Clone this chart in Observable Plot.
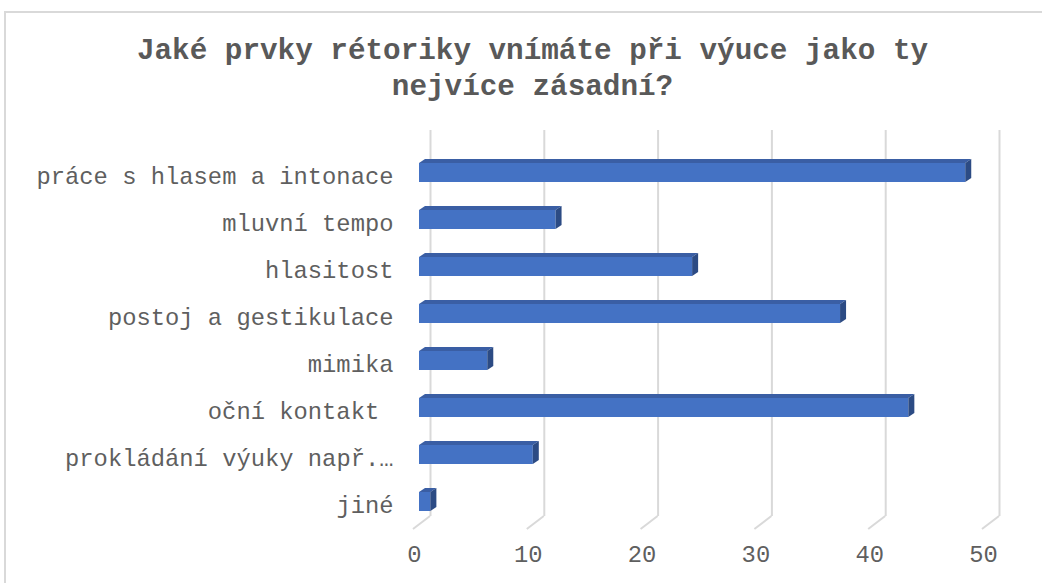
<!DOCTYPE html>
<html><head><meta charset="utf-8">
<script src="https://cdn.jsdelivr.net/npm/d3@7"></script>
<script src="https://cdn.jsdelivr.net/npm/@observablehq/plot@0.6"></script>
<style>
html,body{margin:0;padding:0;background:#fff;overflow:hidden;width:1042px;height:583px}
#card{position:absolute;left:4px;top:11px;width:1100px;height:700px;border-left:2px solid #d9d9d9;border-top:2px solid #d9d9d9;box-sizing:border-box}
#title{position:absolute;left:0;top:34px;width:1065px;text-align:center;font:bold 29.3px/36px "Courier New","Liberation Mono",monospace;color:#595959}
#chart{position:absolute;left:0;top:120px}
#chart text{white-space:pre}
</style></head><body>
<div id="card"></div>
<div id="title">Jaké prvky rétoriky vnímáte při výuce jako ty<br>nejvíce zásadní?</div>
<div id="chart"></div>
<script>
const categories = [
  "práce s hlasem a intonace",
  "mluvní tempo",
  "hlasitost",
  "postoj a gestikulace",
  "mimika",
  "oční kontakt ",
  "prokládání výuky např.…",
  "jiné"
];
const values = [48, 12, 24, 37, 6, 43, 10, 1];
const ticks = [0, 10, 20, 30, 40, 50];

const data = categories.map((label, i) => ({label, value: values[i]}));

const font = '"Courier New","Liberation Mono",monospace';

function faces(index, scales, vals, dims, context, next) {
  const g = next(index, scales, vals, dims, context);
  const rects = Array.from(g.querySelectorAll("rect"));
  const sel = d3.select(g);
  rects.forEach(r => {
    const x = +r.getAttribute("x"), y = +r.getAttribute("y");
    const w = +r.getAttribute("width"), h = +r.getAttribute("height");
    sel.append("polygon")
      .attr("points", `${x},${y} ${x+6},${y-4} ${x+w+6},${y-4} ${x+w},${y}`)
      .attr("fill", "#3a5ea4");
    sel.append("polygon")
      .attr("points", `${x+w},${y} ${x+w+6},${y-4} ${x+w+6},${y+h-4} ${x+w},${y+h}`)
      .attr("fill", "#2c4b84");
  });
  return g;
}

function floor(index, scales, vals, dims) {
  const g = d3.create("svg:g");
  const yb = dims.height - dims.marginBottom;
  for (const i of index) {
    const x = vals.x[i];
    g.append("line")
      .attr("x1", x + 11).attr("y1", yb)
      .attr("x2", x - 6).attr("y2", yb + 13)
      .attr("stroke", "#d9d9d9").attr("stroke-width", 2);
  }
  return g.node();
}

const chart = Plot.plot({
  width: 1042,
  height: 463,
  marginLeft: 419,
  marginRight: 54,
  marginTop: 10,
  marginBottom: 67,
  x: {domain: [0, 50]},
  y: {domain: categories, paddingInner: 0.6, paddingOuter: 0.38, align: 0.875},
  style: {fontFamily: font, fontSize: "23.8px", color: "#595959", background: "transparent", overflow: "visible"},
  marks: [
    Plot.ruleX(ticks, {x: d => d, dx: 11, stroke: "#d9d9d9", strokeWidth: 2}),
    Plot.ruleX(ticks, {x: d => d, render: floor}),
    Plot.barX(data, {x: "value", y: "label", fill: "#4472c4", render: faces}),
    Plot.axisY({tickSize: 0, tickPadding: 26, dy: 3, fill: "#5f5f5f", fontSize: 23.8, label: null}),
    Plot.axisX({ticks, tickSize: 0, tickPadding: 28.5, dx: -5, fill: "#5f5f5f", fontSize: 23.8, label: null})
  ]
});
document.getElementById("chart").appendChild(chart);
</script>
</body></html>
